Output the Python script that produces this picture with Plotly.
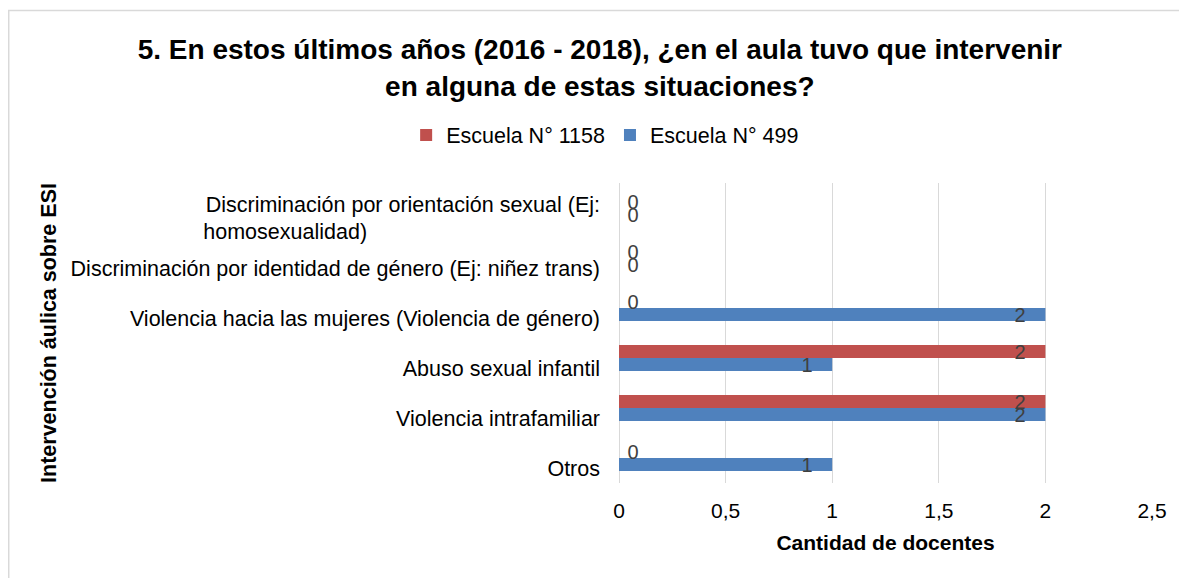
import plotly.graph_objects as go

categorias = [
    "Otros",
    "Violencia intrafamiliar",
    "Abuso sexual infantil",
    "Violencia hacia las mujeres (Violencia de género)",
    "Discriminación por identidad de género (Ej: niñez trans)",
    "Discriminación por orientación sexual (Ej:<br>homosexualidad)" + "\u00a0" * 39,
]
escuela_499 = [1, 2, 1, 2, 0, 0]
escuela_1158 = [0, 2, 2, 0, 0, 0]

x_ticks = [0, 0.5, 1, 1.5, 2, 2.5]

font = "Liberation Sans, Arial, sans-serif"
label_color = "#404040"


def etiquetas(vals):
    textos = []
    posiciones = []
    for v in vals:
        if v == 0:
            textos.append("\u00a0" + str(v))
            posiciones.append("outside")
        else:
            textos.append(str(v) + "\u00a0\u00a0\u00a0")
            posiciones.append("inside")
    return textos, posiciones


fig = go.Figure()
for nombre, vals, color in [("Escuela N° 499", escuela_499, "#4F81BD"),
                            ("Escuela N° 1158", escuela_1158, "#C0504D")]:
    t, p = etiquetas(vals)
    fig.add_trace(go.Bar(
        y=categorias, x=vals, name=nombre, orientation="h",
        marker=dict(color=color, line=dict(width=0)),
        text=t, textposition=p, insidetextanchor="end",
        constraintext="none",
        textfont=dict(family=font, size=20, color=label_color),
        cliponaxis=False,
    ))

fig.update_layout(
    width=1179, height=570,
    margin=dict(l=611, r=35, t=175, b=95),
    paper_bgcolor="white", plot_bgcolor="white",
    separators=",.",
    barmode="group", bargap=0.48, bargroupgap=0,
    font=dict(family=font, color="black"),
    title=dict(
        text="<b>5. En estos últimos años (2016 - 2018), ¿en el aula tuvo que intervenir<br>en alguna de estas situaciones?</b>",
        x=0.502, xanchor="center", y=0.91, yanchor="top",
        font=dict(family=font, size=28, color="black"),
    ),
    legend=dict(
        orientation="h", traceorder="reversed",
        x=-0.026, xanchor="center", y=1.16, yanchor="middle",
        font=dict(family=font, size=21.5, color="black"),
        itemwidth=30,
    ),
    xaxis=dict(
        range=[0, 2.5], tickvals=x_ticks,
        showgrid=True, gridcolor="#d9d9d9", gridwidth=1.3,
        zeroline=True, zerolinecolor="#d9d9d9", zerolinewidth=1.3,
        showline=False,
        ticklabelstandoff=13,
        tickfont=dict(family=font, size=21, color="black"),
        title=dict(text="<b>Cantidad de docentes</b>", standoff=14,
                   font=dict(family=font, size=21, color="black")),
    ),
    yaxis=dict(
        showgrid=False, showline=False, zeroline=False,
        ticklabelstandoff=18, ticklabelshift=10,
        tickfont=dict(family=font, size=21.5, color="black"),
        title=dict(text="<b>Intervención áulica sobre ESI</b>", standoff=8,
                   font=dict(family=font, size=21.5, color="black")),
    ),
    showlegend=True,
)

# marco exterior del grafico
fig.add_shape(type="rect", xref="paper", yref="paper",
              x0=-1.145, x1=1.1, y0=-0.4, y1=1.575,
              line=dict(color="#d9d9d9", width=1.5), layer="below")

fig.write_html("out.html")
